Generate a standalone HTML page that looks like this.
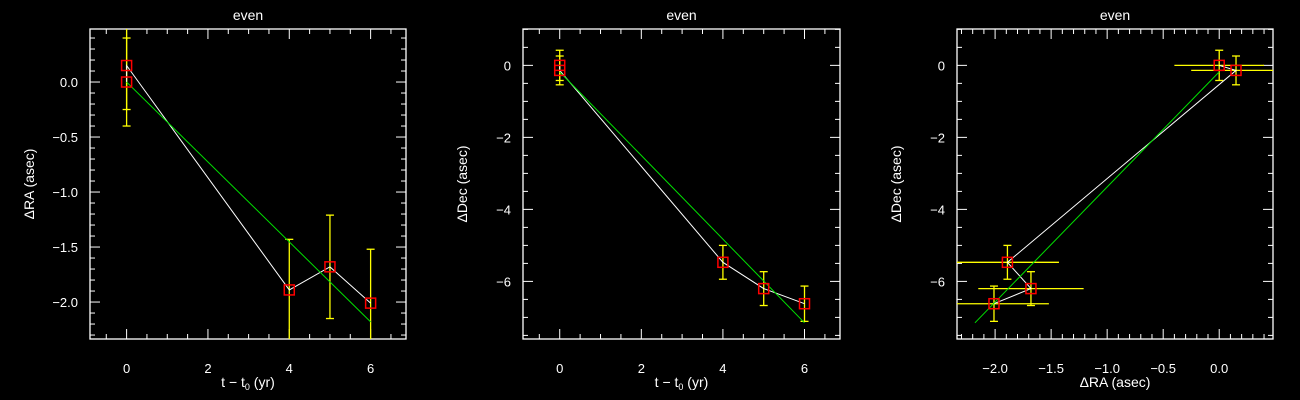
<!DOCTYPE html>
<html><head><meta charset="utf-8"><style>
html,body{margin:0;padding:0;background:#000;}
svg{display:block;}
text{font-family:"Liberation Sans",sans-serif;fill:#fff;}
</style></head><body>
<svg id="chart" width="1300" height="400" viewBox="0 0 1300 400" xmlns="http://www.w3.org/2000/svg">
<rect width="1300" height="400" fill="#000"/>
</svg>
<script>
const epochs = [0, 0, 4, 5, 6];
const deltaRA = [0.0, 0.15, -1.89, -1.68, -2.01];
const deltaDec = [0.0, -0.14, -5.47, -6.2, -6.62];
const errRA = [0.4, 0.4, 0.46, 0.47, 0.49];
const errDec = [0.42, 0.4, 0.47, 0.47, 0.49];
const fitRA = [0.0, -2.18];
const fitDec = [-0.18, -7.15];
const fitT = [0, 6];
const tTicks = [0, 2, 4, 6];
const raTicks = [0.0, -0.5, -1.0, -1.5, -2.0];
const raTickLabels = ["0.0", "\u22120.5", "\u22121.0", "\u22121.5", "\u22122.0"];
const decTicks = [0, -2, -4, -6];
const decTickLabels = ["0", "\u22122", "\u22124", "\u22126"];
const raXTicks = [-2.0, -1.5, -1.0, -0.5, 0.0];
const raXTickLabels = ["\u22122.0", "\u22121.5", "\u22121.0", "\u22120.5", "0.0"];

const svg = document.getElementById('chart');
const NS = 'http://www.w3.org/2000/svg';
function mk(tag, attrs, parent){
  const e = document.createElementNS(NS, tag);
  for (const k in attrs) e.setAttribute(k, attrs[k]);
  (parent||svg).appendChild(e);
  return e;
}
function scale(d0,d1,r0,r1){return v => r0 + (v-d0)/(d1-d0)*(r1-r0);}

function panel(cfg){
  const g = mk('g', {});
  
  
  const L=cfg.L,R=cfg.R,T=29,B=339;
  const sx = scale(cfg.xd[0],cfg.xd[1],L,R), sy = scale(cfg.yd[0],cfg.yd[1],B,T);
  // clip
  const cid = 'clip'+cfg.name;
  const cp = mk('clipPath',{id:cid},g); mk('rect',{x:L,y:T,width:R-L,height:B-T},cp);
  // frame
  const fr = mk('rect',{x:L,y:T,width:R-L,height:B-T,fill:'none',stroke:'#fff','stroke-width':1.3},g);
  
  
  // x ticks
  const xa = mk('g',{stroke:'#fff','stroke-width':1},g);
  
  
  const xm = cfg.xMinor;
  for (let v=Math.ceil(cfg.xd[0]/xm-1e-6)*xm; v<=cfg.xd[1]+1e-9; v+=xm){
    const major = Math.abs(v/cfg.xMajor-Math.round(v/cfg.xMajor))<1e-6;
    const len = major?10:5, x=sx(v);
    mk('line',{x1:x,y1:B,x2:x,y2:B-len},xa); mk('line',{x1:x,y1:T,x2:x,y2:T+len},xa);
  }
  cfg.xTicks.forEach((v,i)=>{
    const t = mk('text',{x:sx(v),y:B+34,'text-anchor':'middle','font-size':13,stroke:'none'},g);
    t.textContent = cfg.xLabels[i];
    
    
  });
  const ya = mk('g',{stroke:'#fff','stroke-width':1},g);
  
  
  const ym = cfg.yMinor;
  for (let v=Math.ceil(cfg.yd[0]/ym-1e-6)*ym; v<=cfg.yd[1]+1e-9; v+=ym){
    const major = Math.abs(v/cfg.yMajor-Math.round(v/cfg.yMajor))<1e-6;
    const len = major?10:5, y=sy(v);
    mk('line',{x1:L,y1:y,x2:L+len,y2:y},ya); mk('line',{x1:R,y1:y,x2:R-len,y2:y},ya);
  }
  cfg.yTicks.forEach((v,i)=>{
    const t = mk('text',{x:L-12,y:sy(v)+5,'text-anchor':'end','font-size':13},g);
    t.textContent = cfg.yLabels[i];
    
    
  });
  const ti = mk('text',{x:(L+R)/2,y:20,'text-anchor':'middle','font-size':14},g);
  ti.textContent='even';
  
  
  const xt = mk('text',{x:(L+R)/2,y:B+48,'text-anchor':'middle','font-size':14},g);
  xt.innerHTML = cfg.xTitle;
  
  
  const cx=L-56, cy=(T+B)/2;
  const yt = mk('text',{x:cx,y:cy,'text-anchor':'middle','font-size':14,transform:`rotate(-90 ${cx} ${cy})`},g);
  yt.textContent = cfg.yTitle;
  
  

  const d = mk('g',{'clip-path':`url(#${cid})`},g);
  // error bars
  const eb = mk('g',{stroke:'#ffff00','stroke-width':1.3,fill:'none'},d);
  
  
  cfg.xs.forEach((xv,i)=>{
    const yv=cfg.ys[i], x=sx(xv), y=sy(yv);
    if (cfg.ye){
      const y1=sy(yv+cfg.ye[i]), y2=sy(yv-cfg.ye[i]);
      mk('line',{x1:x,y1:y1,x2:x,y2:y2},eb);
      mk('line',{x1:x-4,y1:y1,x2:x+4,y2:y1},eb);
      mk('line',{x1:x-4,y1:y2,x2:x+4,y2:y2},eb);
    }
    if (cfg.xe){
      mk('line',{x1:sx(xv-cfg.xe[i]),y1:y,x2:sx(xv+cfg.xe[i]),y2:y},eb);
    }
  });
  // data line
  const pl = mk('polyline',{points:cfg.xs.map((v,i)=>sx(v)+','+sy(cfg.ys[i])).join(' '),fill:'none',stroke:'#fff','stroke-width':1},d);
  
  
  // fit
  const fl = mk('line',{x1:sx(cfg.fx[0]),y1:sy(cfg.fy[0]),x2:sx(cfg.fx[1]),y2:sy(cfg.fy[1]),stroke:'#00e000','stroke-width':1},d);
  
  
  cfg.xs.forEach((xv,i)=>{
    const r = mk('rect',{x:sx(xv)-5,y:sy(cfg.ys[i])-5,width:10,height:10,fill:'none',stroke:'#ff0000','stroke-width':1.5},d);
    
    
  });
}

panel({name:'ra-vs-time-panel',L:90,R:406,xd:[-0.9,6.87],yd:[-2.336,0.482],xMajor:2,xMinor:0.5,yMajor:0.5,yMinor:0.1,
  xTicks:tTicks,xLabels:tTicks.map(String),yTicks:raTicks,yLabels:raTickLabels,
  xTitle:'t \u2212 t<tspan font-size="9" dy="3">0</tspan><tspan dy="-3"> (yr)</tspan>',yTitle:'\u0394RA (asec)',
  xs:epochs,ys:deltaRA,ye:errRA,fx:fitT,fy:fitRA});
panel({name:'dec-vs-time-panel',L:523,R:840,xd:[-0.9,6.87],yd:[-7.6,1.01],xMajor:2,xMinor:0.5,yMajor:2,yMinor:0.5,
  xTicks:tTicks,xLabels:tTicks.map(String),yTicks:decTicks,yLabels:decTickLabels,
  xTitle:'t \u2212 t<tspan font-size="9" dy="3">0</tspan><tspan dy="-3"> (yr)</tspan>',yTitle:'\u0394Dec (asec)',
  xs:epochs,ys:deltaDec,ye:errDec,fx:fitT,fy:fitDec});
panel({name:'dec-vs-ra-panel',L:957,R:1273,xd:[-2.34,0.48],yd:[-7.6,1.01],xMajor:0.5,xMinor:0.1,yMajor:2,yMinor:0.5,
  xTicks:raXTicks,xLabels:raXTickLabels,yTicks:decTicks,yLabels:decTickLabels,
  xTitle:'\u0394RA (asec)',yTitle:'\u0394Dec (asec)',
  xs:deltaRA,ys:deltaDec,ye:errDec,xe:errRA,fx:fitRA,fy:fitDec});
</script>
</body></html>
